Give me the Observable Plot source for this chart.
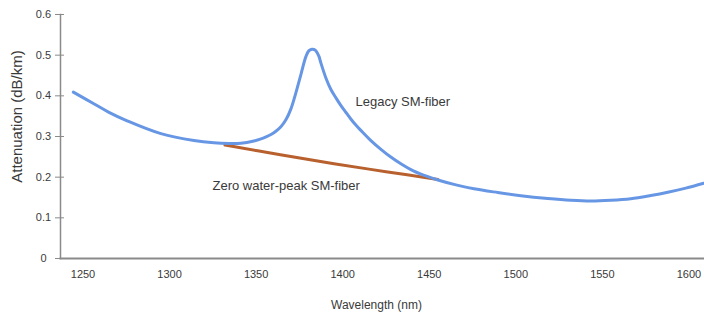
<!DOCTYPE html>
<html>
<head>
<meta charset="utf-8">
<script src="https://cdn.jsdelivr.net/npm/d3@7"></script>
<script src="https://cdn.jsdelivr.net/npm/@observablehq/plot@0.6"></script>
<style>
  html, body { margin: 0; padding: 0; background: #fff; }
  svg { display: block; }
</style>
</head>
<body>
<div id="chart"></div>
<script>
// Legacy SM-fiber (blue)
const legacyWavelength = [1244.4, 1256.5, 1265.0, 1275.8, 1295.0, 1314.1, 1325.6, 1334.3, 1341.2, 1348.7, 1352.8, 1355.7, 1358.6, 1361.4, 1364.3, 1367.2, 1370.1, 1373.0, 1375.9, 1378.8, 1380.5, 1382.2, 1383.4, 1384.5, 1386.3, 1387.4, 1390.3, 1393.2, 1396.1, 1399.0, 1401.9, 1404.7, 1407.6, 1410.5, 1416.3, 1422.1, 1427.8, 1433.6, 1441.1, 1448.0, 1455.0, 1465.4, 1475.8, 1489.6, 1502.9, 1518.5, 1531.8, 1543.3, 1554.9, 1566.4, 1578.0, 1587.8, 1598.2, 1608.6];
const legacyAttenuation = [0.409, 0.380, 0.3595, 0.338, 0.307, 0.290, 0.2845, 0.283, 0.2835, 0.289, 0.294, 0.299, 0.305, 0.313, 0.324, 0.341, 0.368, 0.408, 0.453, 0.497, 0.511, 0.5145, 0.514, 0.511, 0.497, 0.481, 0.444, 0.4155, 0.395, 0.376, 0.359, 0.343, 0.328, 0.315, 0.290, 0.2685, 0.2495, 0.233, 0.2147, 0.203, 0.193, 0.181, 0.1714, 0.1623, 0.1545, 0.1475, 0.143, 0.1412, 0.143, 0.147, 0.155, 0.163, 0.173, 0.185];

// Zero water-peak SM-fiber (orange)
const zeroWavelength = [1332, 1364, 1395, 1425, 1455];
const zeroAttenuation = [0.279, 0.255, 0.233, 0.2135, 0.1945];

const xTicks = [1250, 1300, 1350, 1400, 1450, 1500, 1550, 1600];
const yTicks = [0, 0.1, 0.2, 0.3, 0.4, 0.5, 0.6];

const legacy = legacyWavelength.map((w, i) => ({w, a: legacyAttenuation[i]}));
const zero = zeroWavelength.map((w, i) => ({w, a: zeroAttenuation[i]}));

const gray = "#8a8a8a";
const textColor = "#3a3a3a";

const chart = Plot.plot({
  width: 704,
  height: 314,
  marginLeft: 60,
  marginRight: 0,
  marginTop: 14,
  marginBottom: 56,
  style: {fontFamily: "'Liberation Sans', Arial, sans-serif", background: "#fff"},
  x: {domain: [1237, 1609]},
  y: {domain: [0, 0.6]},
  marks: [
    Plot.axisY(yTicks, {
      tickSize: 9, dx: 4, tickPadding: 12, textAnchor: "middle",
      tickFormat: d => d === 0 ? "0" : d.toFixed(1),
      fontSize: 11, fill: textColor, stroke: gray, label: null
    }),
    Plot.axisX(xTicks, {
      tickSize: 0, tickPadding: 12, fontSize: 11, fill: textColor, label: null,
      tickFormat: d => String(d)
    }),
    Plot.frame({anchor: "left", stroke: gray, strokeWidth: 1.5}),
    Plot.frame({anchor: "bottom", stroke: gray, strokeWidth: 2}),
    Plot.line(zero, {x: "w", y: "a", stroke: "#b8602e", strokeWidth: 3, curve: "catmull-rom"}),
    Plot.line(legacy, {x: "w", y: "a", stroke: "#6797e4", strokeWidth: 3, curve: "catmull-rom"}),
    Plot.text(["Legacy SM-fiber"], {x: 1407.4, y: 0.386, textAnchor: "start", fontSize: 13, fill: textColor}),
    Plot.text(["Zero water-peak SM-fiber"], {x: 1324.8, y: 0.1795, textAnchor: "start", fontSize: 13, fill: textColor}),
    Plot.text(["Attenuation (dB/km)"], {frameAnchor: "left", textAnchor: "middle", lineAnchor: "middle", rotate: -90, dx: -43, dy: -20, fontSize: 15, fill: textColor}),
    Plot.text(["Wavelength (nm)"], {frameAnchor: "bottom", textAnchor: "middle", lineAnchor: "middle", dx: -6, dy: 47, fontSize: 12, fill: textColor})
  ]
});
document.getElementById("chart").appendChild(chart);
</script>
</body>
</html>
